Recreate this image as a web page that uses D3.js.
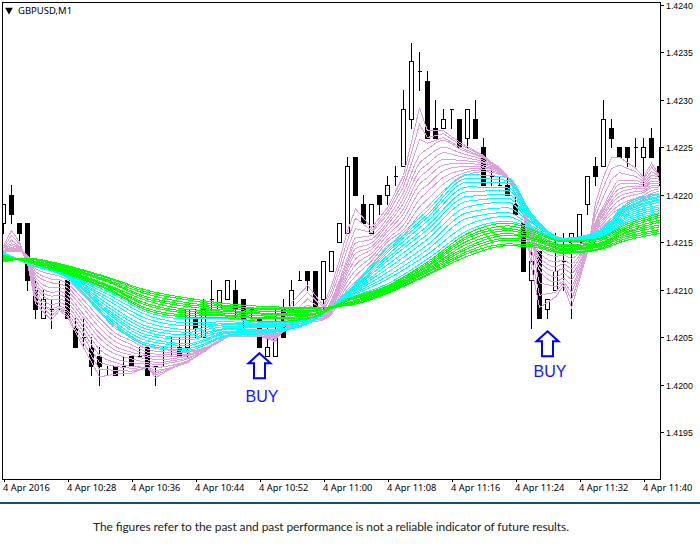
<!DOCTYPE html>
<html><head><meta charset="utf-8">
<script src="https://cdn.jsdelivr.net/npm/d3@7"></script>
<style>html,body{margin:0;padding:0;background:#fff}svg{display:block}</style>
</head><body><svg id="c" width="700" height="552"></svg>
<script>
// All prices are pips above 1.4000 (e.g. 217 = 1.4217); one value per bar (bar 0 = 10:20).
const symbolLabel = "GBPUSD,M1";
const footerText = "The figures refer to the past and past performance is not a reliable indicator of future results.";
const barCount = 83;
const open  = [217,220,217,217,210,207,208,209,211,206,205,204,203,201,202,202,203,203,204,202,203,204,204,204,207,205,209,208,209,210,209,208,207,203,203,208,208,211,212,212,209,212,215,216,224,219,216,220,220,222,223,228,233,232,227,227,229,228,226,228,225,222,221,221,219,217,211,214,208,210,213,215,215,219,223,223,227,225,225,225,224,226,223];
const high  = [219,221,217,217,211,210,209,211,211,207,207,205,204,202,202,203,203,204,204,202,204,205,205,208,208,209,211,210,211,211,209,208,207,206,208,209,211,212,212,212,213,214,217,224,224,220,219,220,222,223,231,236,235,233,230,229,229,228,229,230,226,223,222,222,220,217,214,214,209,216,216,216,218,222,224,230,228,225,225,226,226,227,225];
const low   = [216,217,215,210,207,207,206,208,207,204,204,201,200,201,201,201,202,203,201,200,202,203,203,203,205,205,208,208,209,207,206,207,204,203,203,205,208,211,210,208,208,212,215,216,220,217,216,218,219,221,223,227,231,226,226,227,227,225,225,226,221,221,221,220,218,212,206,207,207,210,210,207,215,218,221,223,225,224,223,223,221,224,221];
const close = [219,218,216,211,208,209,208,209,207,204,205,202,202,201,201,202,202,203,201,202,203,204,203,208,206,208,209,210,211,208,207,208,204,204,205,205,210,211,211,208,213,214,217,223,220,217,219,219,221,222,229,234,233,226,226,228,229,225,229,226,221,222,221,220,218,212,213,207,209,212,213,216,218,222,222,228,226,224,224,225,225,224,222];

const xTickBars = [0,8,16,24,32,40,48,56,64,72,80];
const xTickLabels = ["4 Apr 2016","4 Apr 10:28","4 Apr 10:36","4 Apr 10:44","4 Apr 10:52","4 Apr 11:00","4 Apr 11:08","4 Apr 11:16","4 Apr 11:24","4 Apr 11:32","4 Apr 11:40"];
const yTickPips = [240,235,230,225,220,215,210,205,200,195];

const buyBars = [32,68];
const buyTips = [203.3,205.6];
const buyLabelLevels = [198.2,200.8];
const buyLabel = "BUY";

// Bars at which the slow ribbons were read
const ribbonBars = [0,3,8,13,18,23,28,33,38,43,48,53,58,63,66,70,74,78,82];
const greenLines = [
[212.9,213.3,212.5,211.3,209.9,209.1,208.5,208.2,208.1,208.3,209.6,211.5,213.5,214.6,214.5,213.8,214.1,215.2,215.9],
[213.0,213.3,212.4,211.2,209.7,208.9,208.3,208.0,208.0,208.4,209.7,211.6,213.8,214.8,214.7,213.9,214.2,215.4,216.1],
[213.1,213.2,212.3,211.0,209.5,208.6,208.2,207.9,207.8,208.4,209.8,211.8,214.0,215.2,214.9,214.1,214.4,215.6,216.3],
[213.1,213.2,212.2,210.9,209.2,208.4,208.0,207.7,207.7,208.5,209.9,211.9,214.3,215.4,215.2,214.2,214.5,215.8,216.6],
[213.2,213.1,212.1,210.8,209.0,208.2,207.8,207.5,207.6,208.6,210.0,212.1,214.5,215.7,215.4,214.3,214.6,216.0,216.8],
[213.3,213.1,212.0,210.5,208.8,207.9,207.7,207.4,207.4,208.6,210.0,212.2,214.8,215.9,215.5,214.5,214.7,216.1,217.1],
[213.4,213.0,211.9,210.4,208.5,207.7,207.5,207.2,207.3,208.8,210.1,212.4,215.1,216.2,215.7,214.6,214.8,216.3,217.3],
[213.4,213.0,211.8,210.3,208.3,207.5,207.3,207.0,207.2,208.9,210.2,212.5,215.4,216.4,215.9,214.7,215.0,216.5,217.6],
[213.5,212.9,211.7,210.1,208.0,207.3,207.2,206.9,207.0,208.9,210.3,212.7,215.6,216.7,216.1,215.0,215.2,216.7,217.8],
[213.6,212.9,211.6,210.0,207.8,207.1,207.0,206.6,206.9,209.0,210.4,212.9,215.9,217.0,216.3,215.1,215.3,216.9,218.0]
];
const cyanLines = [
[213.6,213.0,211.5,209.8,207.6,206.9,206.9,206.5,206.9,209.0,210.6,213.2,216.2,217.2,216.4,215.1,215.3,217.1,218.1],
[213.6,213.0,211.5,209.5,207.3,206.5,206.6,206.4,206.8,209.1,211.1,213.7,216.8,217.7,216.5,215.1,215.4,217.3,218.3],
[213.7,212.9,211.4,209.2,206.9,206.2,206.4,206.3,206.8,209.2,211.4,214.2,217.5,218.1,216.7,215.2,215.5,217.5,218.5],
[213.7,212.9,211.4,208.9,206.5,205.8,206.3,206.2,206.8,209.3,211.8,214.7,218.1,218.6,217.0,215.2,215.5,217.7,218.7],
[213.7,212.9,211.4,208.5,206.1,205.5,206.1,206.1,206.6,209.4,212.2,215.3,218.7,219.2,217.1,215.2,215.6,217.9,218.9],
[213.8,212.9,211.3,208.2,205.8,205.2,205.9,206.0,206.6,209.4,212.6,215.8,219.3,219.6,217.3,215.3,215.7,218.1,219.2],
[213.8,212.9,211.3,207.9,205.5,204.9,205.8,205.8,206.5,209.5,213.0,216.3,219.8,220.0,217.4,215.3,215.7,218.3,219.4],
[213.8,212.9,211.3,207.7,205.2,204.7,205.6,205.7,206.5,209.6,213.3,216.7,220.3,220.4,217.5,215.3,215.8,218.4,219.5],
[213.8,212.7,211.3,207.5,204.9,204.3,205.5,205.7,206.5,209.6,213.6,217.2,220.8,220.7,217.7,215.3,215.9,218.6,219.7],
[213.9,212.7,211.2,207.2,204.6,204.1,205.4,205.6,206.5,209.7,213.9,217.6,221.3,221.2,217.8,215.4,215.9,218.7,219.8],
[213.9,212.7,211.2,207.0,204.3,203.8,205.2,205.5,206.4,209.7,214.1,217.9,221.7,221.5,217.9,215.4,215.9,218.9,220.0],
[213.9,212.7,211.2,206.8,204.1,203.6,205.1,205.4,206.4,209.8,214.4,218.3,222.1,221.8,218.0,215.4,216.0,219.1,220.1]
];
// Fast ribbon, read bar by bar; each row is one bar, each column one line (slow to fast)
const pinkBars = [0,1,2,3,4,6,7,8,10,12,14,16,18,19,21,23,25,28,32,34,36,38,40,41,42,43,44,46,48,50,52,53,55,57,60,63,65,66,67,69,70,71,72,73,74,75,76,77,79,80,81,82];
const pinkRows = [
[213.9,213.9,214.0,214.0,214.0,214.0,214.1,214.1,214.1,214.3,214.4,214.6],
[214.0,214.0,214.1,214.1,214.2,214.3,214.4,214.6,214.8,215.2,215.7,216.2],
[214.0,214.0,214.1,214.1,214.1,214.2,214.2,214.3,214.3,214.5,214.8,215.0],
[213.6,213.5,213.4,213.3,213.2,213.1,213.0,212.9,212.9,212.8,212.7,212.7],
[212.2,211.9,211.6,211.3,211.0,210.6,210.4,210.0,209.7,209.3,208.9,208.5],
[211.6,211.1,210.7,210.2,209.7,209.3,208.9,208.4,208.0,207.6,207.2,206.8],
[211.4,211.0,210.6,210.2,209.8,209.4,209.0,208.6,208.2,208.1,208.0,207.8],
[211.0,210.6,210.2,209.8,209.4,209.0,208.6,208.2,207.8,207.6,207.3,207.1],
[209.4,208.9,208.4,208.0,207.4,207.0,206.5,206.0,205.5,205.0,204.4,203.9],
[207.6,207.0,206.5,206.0,205.4,204.9,204.3,203.7,203.1,202.3,201.6,200.8],
[205.9,205.4,205.0,204.5,204.0,203.6,203.2,202.7,202.3,201.9,201.5,201.1],
[205.0,204.6,204.2,203.8,203.4,203.1,202.7,202.3,201.9,201.7,201.4,201.2],
[204.0,203.7,203.4,203.1,202.9,202.6,202.3,202.1,201.8,201.8,201.8,201.8],
[203.8,203.5,203.2,202.9,202.6,202.3,202.1,201.8,201.5,201.2,201.0,200.7],
[203.6,203.4,203.1,202.9,202.7,202.5,202.3,202.0,201.8,201.8,201.7,201.7],
[203.5,203.4,203.2,203.1,203.0,202.8,202.7,202.5,202.4,202.4,202.3,202.3],
[203.8,203.7,203.7,203.6,203.6,203.5,203.5,203.4,203.4,203.5,203.5,203.6],
[205.1,205.1,205.1,205.1,205.1,205.0,205.0,205.0,205.0,205.0,205.0,205.0],
[205.7,205.6,205.6,205.5,205.5,205.4,205.4,205.3,205.3,205.2,205.2,205.1],
[205.4,205.3,205.3,205.2,205.1,205.1,205.0,205.0,204.9,204.8,204.6,204.5],
[205.9,206.0,206.1,206.2,206.3,206.5,206.6,206.7,206.8,207.4,208.0,208.6],
[206.5,206.7,207.0,207.2,207.4,207.6,207.8,208.1,208.3,209.0,209.7,210.4],
[206.8,206.9,207.0,207.1,207.2,207.3,207.4,207.5,207.6,207.8,208.1,208.3],
[207.4,207.6,207.8,208.0,208.2,208.3,208.5,208.7,208.9,209.4,209.9,210.4],
[208.7,209.0,209.3,209.6,209.9,210.2,210.4,210.7,211.0,211.7,212.4,213.1],
[210.0,210.4,210.9,211.3,211.7,212.1,212.5,212.9,213.3,214.3,215.2,216.2],
[210.8,211.4,212.0,212.6,213.2,213.8,214.3,214.9,215.4,216.4,217.5,218.5],
[212.6,213.0,213.4,213.8,214.2,214.5,214.9,215.3,215.7,216.0,216.2,216.5],
[214.6,215.0,215.3,215.7,216.1,216.4,216.8,217.1,217.5,217.9,218.2,218.6],
[215.7,216.3,216.8,217.4,218.0,218.5,219.1,219.6,220.2,220.8,221.4,222.0],
[217.9,218.7,219.5,220.3,221.1,221.8,222.5,223.3,224.1,225.8,227.4,229.1],
[218.7,219.5,220.3,221.0,221.8,222.5,223.2,224.0,224.8,225.4,226.0,226.7],
[220.4,221.1,221.8,222.5,223.1,223.7,224.4,225.0,225.7,226.0,226.4,226.7],
[221.7,222.1,222.5,222.9,223.3,223.6,224.0,224.4,224.8,225.0,225.3,225.5],
[222.4,222.6,222.8,222.9,223.1,223.3,223.4,223.6,223.8,223.9,224.0,224.1],
[221.8,221.8,221.8,221.8,221.9,221.9,221.9,221.9,221.9,221.9,222.0,222.0],
[218.8,218.8,218.7,218.7,218.6,218.6,218.6,218.5,218.5,218.3,218.2,218.0],
[216.6,216.4,216.3,216.1,215.9,215.7,215.6,215.4,215.2,214.2,213.3,212.3],
[216.0,215.4,214.9,214.4,213.9,213.4,213.0,212.5,212.0,210.7,209.4,208.1],
[215.2,214.6,214.1,213.5,212.9,212.4,211.9,211.3,210.8,210.3,209.7,209.2],
[215.1,214.6,214.1,213.6,213.1,212.7,212.2,211.7,211.2,210.9,210.7,210.4],
[215.0,214.5,213.9,213.3,212.7,212.2,211.7,211.1,210.5,209.7,208.9,208.1],
[215.0,214.7,214.3,213.9,213.6,213.3,212.9,212.6,212.2,211.8,211.4,211.0],
[215.4,215.3,215.2,215.1,215.0,214.9,214.8,214.7,214.6,214.4,214.1,213.9],
[216.1,216.2,216.3,216.5,216.6,216.7,216.8,217.0,217.1,217.8,218.4,219.1],
[216.7,217.0,217.3,217.5,217.8,218.0,218.3,218.5,218.8,219.8,220.8,221.8],
[217.5,217.9,218.2,218.6,219.0,219.3,219.7,220.0,220.4,221.6,222.7,223.9],
[218.0,218.5,218.9,219.4,219.8,220.2,220.6,221.1,221.5,222.3,223.1,223.9],
[219.0,219.3,219.6,220.0,220.3,220.6,220.9,221.2,221.5,221.9,222.4,222.8],
[219.5,219.7,219.9,220.2,220.4,220.6,220.8,221.0,221.2,221.4,221.6,221.8],
[219.8,220.1,220.4,220.7,220.9,221.2,221.4,221.7,222.0,222.4,222.9,223.3],
[220.2,220.4,220.6,220.8,221.0,221.2,221.4,221.6,221.8,221.9,221.9,222.0]
];

const svg = d3.select("#c");
const plot = {left:2, top:2, right:660, bottom:479};
const x = d3.scaleLinear().domain([0,80]).range([3,643]);
const y = d3.scaleLinear().domain([240,195]).range([4.5,432]);
const font = "'Noto Sans','DejaVu Sans',sans-serif";

svg.append("defs").append("clipPath").attr("id","plotClip").append("rect")
  .attr("x",plot.left).attr("y",plot.top).attr("width",plot.right-plot.left).attr("height",plot.bottom-plot.top);
const g = svg.append("g").attr("clip-path","url(#plotClip)").attr("shape-rendering","crispEdges");

// candles
const bars = d3.range(barCount);
const px = v => Math.round(v);
g.append("g").selectAll("line").data(bars).join("line")
  .attr("x1",i=>x(i)+.5).attr("x2",i=>x(i)+.5)
  .attr("y1",i=>px(y(high[i]))).attr("y2",i=>px(y(low[i]))+1)
  .attr("stroke","#000");
g.append("g").selectAll("path").data(bars).join("path")
  .attr("d",i=>{
    const top = px(y(Math.max(open[i],close[i])))+.5, bot = px(y(Math.min(open[i],close[i])))+.5;
    const p = d3.path(); p.moveTo(x(i)-1.5,top); p.lineTo(x(i)+2.5,top); p.lineTo(x(i)+2.5,bot); p.lineTo(x(i)-1.5,bot); p.closePath();
    return p.toString();
  })
  .attr("fill",i=>close[i]<open[i]?"#000":"#fff").attr("stroke","#000");

// ribbons
const ribbon = (data, idx, colour, curveFor) => {
  g.append("g").selectAll("path").data(data).join("path")
    .attr("d",(d,n)=>d3.line().x((v,k)=>x(idx[k])+.5).y(v=>y(v)).curve(curveFor(n))(d))
    .attr("fill","none").attr("stroke",colour).attr("stroke-width",1);
};
ribbon(d3.transpose(pinkRows), pinkBars, "#DDA0DD", n=>n<9?d3.curveMonotoneX:d3.curveLinear);
ribbon(cyanLines, ribbonBars, "#00FFFF", ()=>d3.curveMonotoneX);
ribbon(greenLines, ribbonBars, "#00FF00", ()=>d3.curveMonotoneX);

// frame
svg.append("rect").attr("x",plot.left+.5).attr("y",plot.top+.5).attr("width",plot.right-plot.left).attr("height",plot.bottom-plot.top)
  .attr("fill","none").attr("stroke","#000").attr("shape-rendering","crispEdges");

// axes
const yAxis = d3.axisRight(y).tickValues(yTickPips).tickSize(3).tickPadding(2).tickFormat(d=>(1.4+d/10000).toFixed(4));
const ya = svg.append("g").attr("transform",`translate(${plot.right+1},0)`).call(yAxis);
ya.select(".domain").remove();
ya.selectAll("text").attr("font-family","'Liberation Sans',Arial,sans-serif").attr("font-size",8.8).attr("fill","#000").attr("dy",3.6);
ya.selectAll("line").attr("shape-rendering","crispEdges");

const xAxis = d3.axisBottom(x).tickValues(xTickBars).tickSize(3).tickFormat((d,k)=>xTickLabels[k]);
const xa = svg.append("g").attr("transform",`translate(0.5,${plot.bottom})`).call(xAxis);
xa.select(".domain").remove();
xa.selectAll("text").attr("font-family",font).attr("font-size",9.3).attr("fill","#000").attr("text-anchor","start").attr("dx",-1).attr("y",5);
xa.selectAll("line").attr("shape-rendering","crispEdges");

// symbol label
svg.append("path").attr("d",d3.symbol(d3.symbolTriangle,26)()).attr("transform","translate(9,10) rotate(180)").attr("fill","#000");
svg.append("text").attr("x",18).attr("y",13.5).attr("font-family",font).attr("font-size",9.5).attr("fill","#000").text(symbolLabel);

// BUY arrows
const arrow = d3.line();
const arrowShape = [[0,0],[11,10],[5.5,10],[5.5,25],[-5.5,25],[-5.5,10],[-11,10]];
buyBars.forEach((b,k)=>{
  svg.append("path").attr("d",arrow(arrowShape)+"Z").attr("transform",`translate(${x(b)+.5},${y(buyTips[k])})`)
    .attr("fill","#fff").attr("stroke","#0000ff").attr("stroke-width",2);
  svg.append("text").attr("x",x(b)+3).attr("y",y(buyLabelLevels[k])).attr("text-anchor","middle")
    .attr("font-family","'Liberation Sans',Arial,sans-serif").attr("font-size",16).attr("fill","#1414ff").text(buyLabel);
});

// footer
svg.append("rect").attr("x",0).attr("y",502).attr("width",700).attr("height",2).attr("fill","#14506a");
svg.append("text").attr("x",93).attr("y",531).attr("textLength",476).attr("lengthAdjust","spacing").attr("font-family","Lato,'Noto Sans',sans-serif").attr("font-size",12).attr("fill","#222").text(footerText);
</script></body></html>
